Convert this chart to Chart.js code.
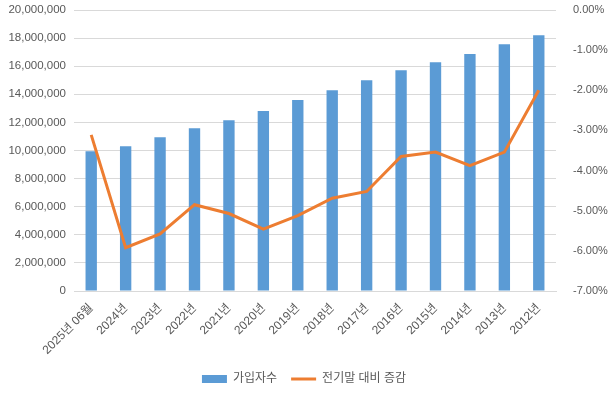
<!DOCTYPE html>
<html>
<head>
<meta charset="utf-8">
<script src="https://cdn.jsdelivr.net/npm/chart.js@4/dist/chart.umd.min.js"></script>
<style>
  html, body { margin: 0; padding: 0; background: #fff; }
  #wrap { width: 608px; height: 399px; }
</style>
</head>
<body>
<div id="wrap"><canvas id="chart" width="608" height="399"></canvas></div>
<script>
// 카테고리와 시리즈 값
const labels = ['2025년 06월', '2024년', '2023년', '2022년', '2021년', '2020년', '2019년',
  '2018년', '2017년', '2016년', '2015년', '2014년', '2013년', '2012년'];
const subscribers = [9950000, 10310000, 10950000, 11590000, 12160000, 12810000, 13600000,
  14290000, 15000000, 15710000, 16290000, 16860000, 17570000, 18210000];
const changePct = [-3.11, -5.92, -5.58, -4.85, -5.07, -5.46, -5.12,
  -4.69, -4.52, -3.65, -3.54, -3.88, -3.54, -2.00];

const FONT = '"Liberation Sans", "Noto Sans CJK KR", sans-serif';
const GREY = '#595959';

new Chart(document.getElementById('chart'), {
  data: {
    labels,
    datasets: [
      {
        type: 'line',
        label: '전기말 대비 증감',
        data: changePct,
        yAxisID: 'y1',
        borderColor: '#ED7D31',
        backgroundColor: '#ED7D31',
        borderWidth: 3,
        pointRadius: 0,
        pointStyle: 'line',
        tension: 0,
        order: 0
      },
      {
        type: 'bar',
        label: '가입자수',
        data: subscribers,
        yAxisID: 'y',
        backgroundColor: '#5B9BD5',
        borderWidth: 0,
        pointStyle: 'rect',
        categoryPercentage: 1,
        barPercentage: 0.33,
        order: 1
      }
    ]
  },
  options: {
    responsive: false,
    animation: false,
    layout: { padding: { top: 10, bottom: 4, left: 0, right: 0 } },
    plugins: {
      tooltip: { enabled: false },
      legend: {
        position: 'bottom',
        reverse: true,
        labels: {
          usePointStyle: true,
          pointStyleWidth: 25,
          boxHeight: 8,
          color: GREY,
          padding: 14,
          font: { family: FONT, size: 12 }
        }
      }
    },
    scales: {
      x: {
        grid: { display: false },
        border: { color: '#d9d9d9' },
        ticks: {
          color: GREY,
          font: { family: FONT, size: 12 },
          minRotation: 45,
          maxRotation: 45,
          autoSkip: false,
          padding: 2
        },
        afterFit: (s) => { s.height = 68; }
      },
      y: {
        position: 'left',
        min: 0,
        max: 20000000,
        grid: { color: '#d9d9d9', drawTicks: false },
        border: { display: false },
        ticks: {
          stepSize: 2000000,
          color: GREY,
          padding: 8,
          font: { family: FONT, size: 11.5 },
          callback: (v) => v.toLocaleString('en-US')
        },
        afterFit: (s) => { s.width = 74; s.paddingTop = 0; s.paddingBottom = 0; }
      },
      y1: {
        position: 'right',
        min: -7,
        max: 0,
        grid: { display: false },
        border: { display: false },
        ticks: {
          stepSize: 1,
          color: GREY,
          padding: 9,
          font: { family: FONT, size: 11 },
          callback: (v) => v.toFixed(2) + '%'
        },
        afterFit: (s) => { s.width = 52; s.paddingTop = 0; s.paddingBottom = 0; }
      }
    }
  }
});
</script>
</body>
</html>
